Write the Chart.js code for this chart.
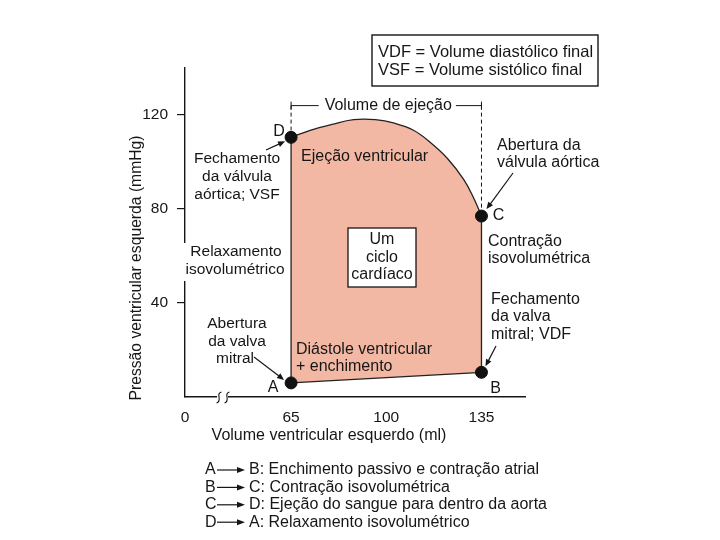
<!DOCTYPE html>
<html>
<head>
<meta charset="utf-8">
<script src="https://cdn.jsdelivr.net/npm/chart.js@4.4.0/dist/chart.umd.min.js"></script>
<style>
  body { margin: 0; background: #fff; }
  canvas { display: block; }
</style>
</head>
<body>
<canvas id="chart" width="720" height="540"></canvas>
<script>
// ciclo pressão-volume do ventrículo esquerdo
// os cantos (A, B, C, D) aparecem duas vezes para que os lados retos não curvem com a tensão
const loopVolume   = [65, 135, 135, 135, 135, 132, 128.5, 122.5, 116, 110, 103, 96, 88, 80, 72, 65, 65, 65];
const loopPressure = [6, 10.5, 10.5, 77, 77, 85, 92.5, 101.5, 108.5, 113.5, 116.5, 118, 118, 116, 113.5, 110.5, 110.5, 6];

const pointNames    = ['A', 'B', 'C', 'D'];
const pointVolume   = [65, 135, 135, 65];
const pointPressure = [6, 10.5, 77, 110.5];

const xTickValues = [26, 65, 100, 135];   // 26 = origem do eixo quebrado
const xTickLabels = ['0', '65', '100', '135'];
const yTickValues = [40, 80, 120];

const ejectionLevel = 124;  // altura da chave "Volume de ejeção"

const legendLines = [
  ['A', 'B: Enchimento passivo e contração atrial'],
  ['B', 'C: Contração isovolumétrica'],
  ['C', 'D: Ejeção do sangue para dentro da aorta'],
  ['D', 'A: Relaxamento isovolumétrico']
];

const INK = '#161616';
const FONT = '"Liberation Sans", Arial, sans-serif';

function txt(ctx, s, x, y, align, size) {
  ctx.font = (size || 16) + 'px ' + FONT;
  ctx.textAlign = align || 'left';
  ctx.textBaseline = 'middle';
  ctx.fillStyle = INK;
  ctx.fillText(s, x, y);
  return ctx.measureText(s).width;
}

function arrow(ctx, x1, y1, x2, y2, head) {
  head = head || 7;
  const a = Math.atan2(y2 - y1, x2 - x1);
  ctx.strokeStyle = INK;
  ctx.fillStyle = INK;
  ctx.lineWidth = 1.2;
  ctx.beginPath();
  ctx.moveTo(x1, y1);
  ctx.lineTo(x2 - Math.cos(a) * head * 0.8, y2 - Math.sin(a) * head * 0.8);
  ctx.stroke();
  ctx.beginPath();
  ctx.moveTo(x2, y2);
  ctx.lineTo(x2 - head * Math.cos(a) + 3 * Math.sin(a), y2 - head * Math.sin(a) - 3 * Math.cos(a));
  ctx.lineTo(x2 - head * Math.cos(a) - 3 * Math.sin(a), y2 - head * Math.sin(a) + 3 * Math.cos(a));
  ctx.closePath();
  ctx.fill();
}

const annotations = {
  id: 'annotations',
  afterDraw(chart) {
    const ctx = chart.ctx;
    const xs = chart.scales.x, ys = chart.scales.y;
    const px = v => xs.getPixelForValue(v);
    const py = v => ys.getPixelForValue(v);
    ctx.save();

    // quebra do eixo x
    const axisY = py(0);
    ctx.fillStyle = '#fff';
    ctx.fillRect(217, axisY - 3, 11, 6);
    ctx.strokeStyle = INK;
    ctx.lineWidth = 1.1;
    [219, 227].forEach(bx => {
      ctx.beginPath();
      ctx.moveTo(bx + 2.5, axisY - 5);
      ctx.quadraticCurveTo(bx - 1, axisY - 4, bx, axisY);
      ctx.quadraticCurveTo(bx + 1, axisY + 5, bx - 2.5, axisY + 6);
      ctx.stroke();
    });

    // linhas tracejadas e chave do volume de ejeção
    const xl = px(pointVolume[3]), xr = px(pointVolume[2]);
    const yb = py(ejectionLevel);
    ctx.strokeStyle = INK;
    ctx.setLineDash([4, 3]);
    ctx.lineWidth = 1;
    ctx.beginPath();
    ctx.moveTo(xl, yb); ctx.lineTo(xl, py(pointPressure[3]));
    ctx.moveTo(xr, yb); ctx.lineTo(xr, py(pointPressure[2]));
    ctx.stroke();
    ctx.setLineDash([]);
    const mid = (xl + xr) / 2 + 2;
    const w = txt(ctx, 'Volume de ejeção', mid, yb, 'center');
    ctx.strokeStyle = INK;
    ctx.lineWidth = 1;
    ctx.beginPath();
    ctx.moveTo(xl, yb); ctx.lineTo(mid - w / 2 - 6, yb);
    ctx.moveTo(mid + w / 2 + 4, yb); ctx.lineTo(xr, yb);
    ctx.moveTo(xl, yb - 4); ctx.lineTo(xl, yb + 4);
    ctx.moveTo(xr, yb - 4); ctx.lineTo(xr, yb + 4);
    ctx.stroke();

    // rótulos dos pontos
    const P = pointNames.map((n, i) => ({ x: px(pointVolume[i]), y: py(pointPressure[i]) }));
    txt(ctx, 'A', P[0].x - 18, P[0].y + 5, 'center', 16);
    txt(ctx, 'B', P[1].x + 14, P[1].y + 16, 'center', 16);
    txt(ctx, 'C', P[2].x + 17, P[2].y, 'center', 16);
    txt(ctx, 'D', P[3].x - 12, P[3].y - 6, 'center', 16);

    // textos dentro do ciclo
    txt(ctx, 'Ejeção ventricular', 301, 157);
    txt(ctx, 'Diástole ventricular', 296, 350);
    txt(ctx, '+ enchimento', 296, 367);

    ctx.fillStyle = '#fff';
    ctx.fillRect(348, 228, 68, 59);
    ctx.strokeStyle = INK;
    ctx.lineWidth = 1.3;
    ctx.strokeRect(348, 228, 68, 59);
    txt(ctx, 'Um', 382, 240, 'center');
    txt(ctx, 'ciclo', 382, 258, 'center');
    txt(ctx, 'cardíaco', 382, 275, 'center');

    // anotações à esquerda
    txt(ctx, 'Fechamento', 237, 159, 'center', 15.5);
    txt(ctx, 'da válvula', 237, 177, 'center', 15.5);
    txt(ctx, 'aórtica; VSF', 237, 195, 'center', 15.5);
    arrow(ctx, 266, 150, P[3].x - 6, P[3].y + 4);

    ctx.fillStyle = '#fff';
    ctx.fillRect(181, 243, 107, 38);
    txt(ctx, 'Relaxamento', 236, 252, 'center', 15.5);
    txt(ctx, 'isovolumétrico', 235, 270, 'center', 15.5);

    txt(ctx, 'Abertura', 237, 324, 'center', 15.5);
    txt(ctx, 'da valva', 237, 342, 'center', 15.5);
    txt(ctx, 'mitral', 235, 359, 'center', 15.5);
    arrow(ctx, 254, 357, P[0].x - 7, P[0].y - 3);

    // anotações à direita
    txt(ctx, 'Abertura da', 497, 146);
    txt(ctx, 'válvula aórtica', 497, 163);
    arrow(ctx, 513, 173, P[2].x + 5, P[2].y - 7);
    txt(ctx, 'Contração', 488, 242);
    txt(ctx, 'isovolumétrica', 488, 259);
    txt(ctx, 'Fechamento', 491, 300);
    txt(ctx, 'da valva', 491, 317);
    txt(ctx, 'mitral; VDF', 491, 335);
    arrow(ctx, 496, 346, P[1].x + 4, P[1].y - 6);

    // títulos dos eixos
    txt(ctx, 'Volume ventricular esquerdo (ml)', 329, 436, 'center', 16);
    ctx.save();
    ctx.translate(137, 268);
    ctx.rotate(-Math.PI / 2);
    txt(ctx, 'Pressão ventricular esquerda (mmHg)', 0, 0, 'center', 15.7);
    ctx.restore();

    // caixa de siglas
    ctx.strokeStyle = INK;
    ctx.lineWidth = 1.4;
    ctx.strokeRect(372, 35, 226, 51);
    txt(ctx, 'VDF = Volume diastólico final', 378, 52, 'left', 16.5);
    txt(ctx, 'VSF = Volume sistólico final', 378, 70, 'left', 16.5);

    // legenda das fases
    legendLines.forEach((l, i) => {
      const y = 470 + i * 17.4;
      txt(ctx, l[0], 205, y);
      arrow(ctx, 217, y, 245, y, 8);
      txt(ctx, l[1], 249, y);
    });

    ctx.restore();
  }
};

new Chart(document.getElementById('chart'), {
  type: 'scatter',
  data: {
    datasets: [
      {
        data: pointVolume.map((v, i) => ({ x: v, y: pointPressure[i] })),
        pointRadius: 6,
        pointBackgroundColor: '#111',
        pointBorderColor: '#111',
        showLine: false,
        order: 0
      },
      {
        data: loopVolume.map((v, i) => ({ x: v, y: loopPressure[i] })),
        showLine: true,
        tension: 0.4,
        fill: 'shape',
        backgroundColor: 'rgb(242,184,164)',
        borderColor: '#222',
        borderWidth: 1.3,
        pointRadius: 0,
        order: 1
      }
    ]
  },
  options: {
    responsive: false,
    devicePixelRatio: 1,
    animation: false,
    layout: { padding: { left: 128, top: 68, right: 195, bottom: 0 } },
    plugins: { legend: { display: false }, tooltip: { enabled: false } },
    scales: {
      x: {
        type: 'linear',
        min: 26,
        max: 151,
        afterBuildTicks: s => { s.ticks = xTickValues.map(v => ({ value: v })); },
        afterFit: s => { s.height = 143; },
        ticks: {
          callback: (v, i) => xTickLabels[i],
          font: { family: FONT, size: 15.5 },
          color: INK,
          padding: 3,
          autoSkip: false,
          maxRotation: 0
        },
        grid: { display: false },
        border: { color: INK, width: 1.4 }
      },
      y: {
        min: 0,
        max: 140,
        afterBuildTicks: s => { s.ticks = yTickValues.map(v => ({ value: v })); },
        afterFit: s => { s.width = 57; },
        ticks: {
          font: { family: FONT, size: 15.5 },
          color: INK,
          padding: 9
        },
        grid: { display: true, drawOnChartArea: false, drawTicks: true, tickLength: 8, color: INK, lineWidth: 1.2 },
        border: { color: INK, width: 1.4 }
      }
    }
  },
  plugins: [annotations]
});
</script>
</body>
</html>
